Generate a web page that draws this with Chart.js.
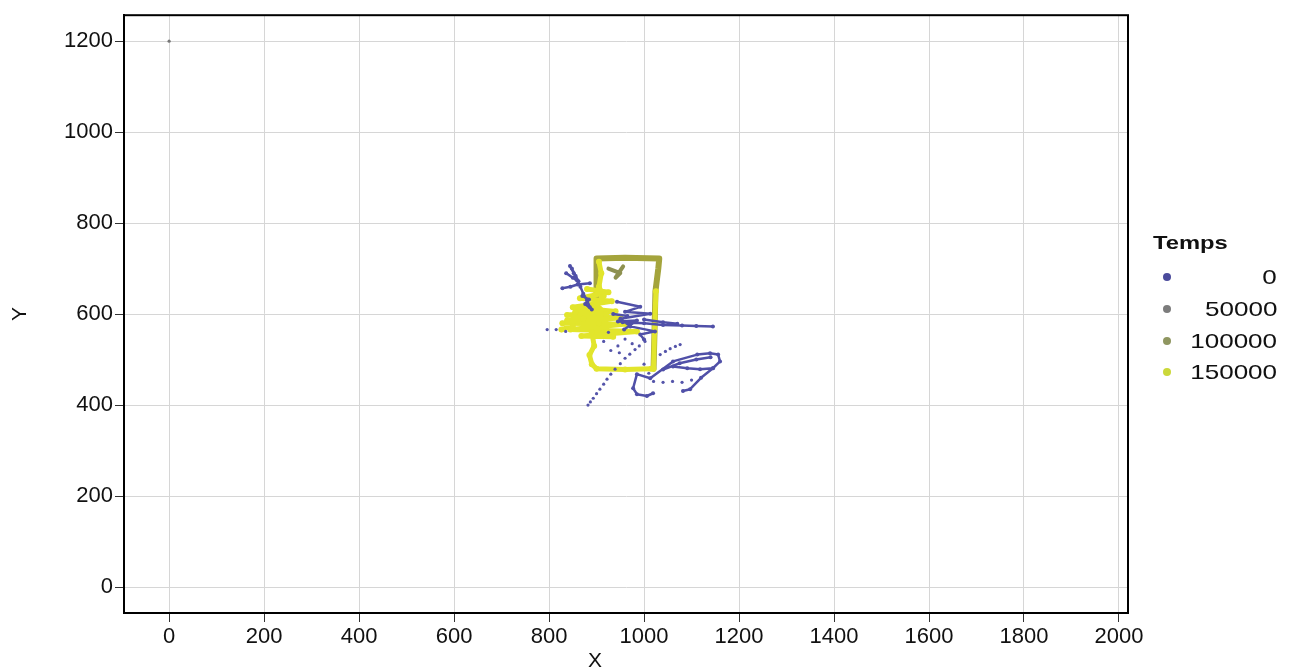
<!DOCTYPE html>
<html lang="fr">
<head>
  <meta charset="utf-8"/>
  <title>Trajectoire X / Y</title>
  <script src="https://cdn.jsdelivr.net/npm/chart.js"></script>
  <style>
    html, body { margin: 0; padding: 0; background: #fff; }
    body { width: 1296px; height: 672px; position: relative; overflow: hidden;
           font-family: "Liberation Sans", Arial, sans-serif; }
    #chart { position: absolute; left: 0; top: 0; }
    .lbl { position: absolute; color: #111; white-space: nowrap; }
    .legTitle { left: 1153px; top: 231px; font-size: 19px; font-weight: bold;
                transform: scaleX(1.25); transform-origin: left center; line-height: 24px; }
    .legText { right: 19px; font-size: 21px; line-height: 24px;
               transform: scaleX(1.24); transform-origin: right center; }
    .dot { position: absolute; width: 8px; height: 8px; border-radius: 50%; }
    .xTitle { left: 588px; top: 647px; font-size: 21px; line-height: 26px; }
  </style>
</head>
<body>
  <canvas id="chart" width="1296" height="672"></canvas>
  <div class="lbl legTitle">Temps</div>
  <div id="legend"></div>
  <div class="lbl xTitle">X</div>

  <script>
  // ── DATA ─────────────────────────────────────────
  const xTicks = [0, 200, 400, 600, 800, 1000, 1200, 1400, 1600, 1800, 2000];
  const yTicks = [0, 200, 400, 600, 800, 1000, 1200];

  const tempsLevels = [0, 50000, 100000, 150000];
  const tempsColors = ['#4b4b9c', '#7c7c7c', '#8f9660', '#cbd83a'];

  // early part of the run (Temps ~ 0), null = break in trail
  const bluePaths = [
    [844,706],[852,690],[858,675],[866,660],[872,645],[880,630],[886,615], null,
    [828,657],[845,660],[860,665],[886,668], null,
    [836,690],[850,680],[862,672],[848,700],[856,684], null,
    [870,640],[884,632],[876,622],[890,610], null,
    [943,627],[992,616],[960,605],[1013,601],[950,590],[971,573],[1023,562],[992,555],[1000,544], null,
    [935,600],[965,596],[945,584],[985,586],[958,566], null,
    [955,582],[1000,580],[1040,576],[1080,575],[1110,574],[1145,573], null,
    [1000,588],[1040,582],[1070,579], null,
    [1061,485],[1091,481],[1118,479],[1145,481],[1160,496],[1156,511],[1139,514],[1112,511],[1061,496],[1013,459],[985,468],
    [977,437],[985,424],[1006,420],[1019,426], null,
    [1145,481],[1120,460],[1097,435],[1082,431], null,
    [1040,478],[1075,492],[1110,500],[1140,505]
  ];
  const blueDots = [
    [1002,540],[990,530],[981,522],[970,512],[960,503],[950,491],[939,479],[930,468],[922,457],
    [915,446],[907,435],[900,425],[893,415],[887,407],[882,400],
    [1034,511],[1045,518],[1055,524],[1066,529],[1076,533],
    [1020,452],[1040,450],[1060,452],[1080,450],[1100,455],
    [925,560],[915,540],[930,520],[945,530],[796,566],[815,566],[835,562],
    [960,545],[975,535],[948,515],[1010,470],[1000,490]
  ];
  // middle of the run (Temps ~ 50000)
  const grayDots = [[0,1200]];
  const grayPaths = [[925,700],[950,690],[940,680],[956,705]];
  // Temps ~ 100000 : the rectangle
  const olivePaths = [
    [902,560],[900,600],[900,660],[900,722],[960,724],[1032,722],[1030,700],[1024,650],[1022,560],[1020,480]
  ];
  // late part (Temps ~ 150000)
  const yellowPaths = [
    [905,715],[910,690],[905,660],[915,640],[900,620],[920,600],[905,580],[915,560], null,
    [880,655],[925,648],[865,635],[932,628],[850,615],[940,606],[838,598],[950,592],
    [828,580],[962,578],[845,566],[985,562],[868,552],[935,550], null,
    [826,566],[850,574],[838,586],[872,590],[855,604],[890,612], null,
    [890,560],[895,530],[885,510],[890,490],[900,480],[960,478],[1015,480], null,
    [1020,480],[1022,560],[1025,650]
  ];
  // ──────────────────────────────────────────────────

  // a null becomes a NaN point so the trail breaks there
  const toPts = arr => arr.map(p => p ? { x: p[0], y: p[1] } : { x: NaN, y: NaN });

  // legend, built by hand (ggplot style)
  const legend = document.getElementById('legend');
  const rowY = [277, 309, 341, 372];
  tempsLevels.forEach((lv, i) => {
    const d = document.createElement('div');
    d.className = 'dot';
    d.style.left = (1167 - 4) + 'px';
    d.style.top = (rowY[i] - 4) + 'px';
    d.style.background = tempsColors[i];
    legend.appendChild(d);
    const t = document.createElement('div');
    t.className = 'lbl legText';
    t.style.top = (rowY[i] - 12) + 'px';
    t.textContent = lv;
    legend.appendChild(t);
  });

  const frame = {
    id: 'frame',
    afterDraw(chart) {
      const a = chart.chartArea, c = chart.ctx;
      c.save();
      c.strokeStyle = '#000';
      c.lineWidth = 2;
      c.strokeRect(a.left, a.top, a.right - a.left, a.bottom - a.top);
      c.restore();
    }
  };

  const line = (data, color, width, radius, order) => ({
    data: toPts(data), showLine: true, spanGaps: false,
    borderColor: color, backgroundColor: color, borderWidth: width,
    pointRadius: radius, pointBorderWidth: 0,
    borderCapStyle: 'round', borderJoinStyle: 'round', order
  });

  const tickFont = { family: '"Liberation Sans", Arial, sans-serif', size: 22 };

  new Chart(document.getElementById('chart'), {
    type: 'scatter',
    data: {
      datasets: [
        line(bluePaths, '#5050a8', 2.5, 2, 1),
        { data: toPts(blueDots), pointRadius: 1.6, backgroundColor: '#5555aa', borderWidth: 0, order: 1 },
        line(yellowPaths, '#e2e52c', 5, 3, 2),
        line(grayPaths, '#8e9150', 4, 0, 3),
        line(olivePaths, '#a4a43c', 6, 0, 3),
        { data: toPts(grayDots), pointRadius: 1.6, backgroundColor: '#777', borderWidth: 0, order: 4 }
      ]
    },
    options: {
      responsive: false,
      animation: false,
      devicePixelRatio: 1,
      layout: { padding: { left: 0, top: 12, right: 168, bottom: 0 } },
      plugins: { legend: { display: false }, tooltip: { enabled: false } },
      scales: {
        x: {
          type: 'linear', min: -95, max: 2019,
          afterFit: s => { s.height = 59; },
          afterBuildTicks: s => { s.ticks = xTicks.map(v => ({ value: v })); },
          grid: { color: '#d6d6d6', lineWidth: 1, tickColor: '#333', tickLength: 9 },
          border: { color: '#000', width: 2 },
          ticks: { font: tickFont, color: '#111', padding: 2, maxRotation: 0, callback: v => String(v) }
        },
        y: {
          type: 'linear', min: -57, max: 1257,
          afterFit: s => { s.width = 124; },
          afterBuildTicks: s => { s.ticks = yTicks.map(v => ({ value: v })); },
          grid: { color: '#d6d6d6', lineWidth: 1, tickColor: '#333', tickLength: 9 },
          border: { color: '#000', width: 2 },
          ticks: { font: tickFont, color: '#111', padding: 2, callback: v => String(v) },
          title: { display: true, text: 'Y', font: { family: tickFont.family, size: 21 }, color: '#111', padding: { top: 8, bottom: 0 } }
        }
      }
    },
    plugins: [frame]
  });
  </script>
</body>
</html>
